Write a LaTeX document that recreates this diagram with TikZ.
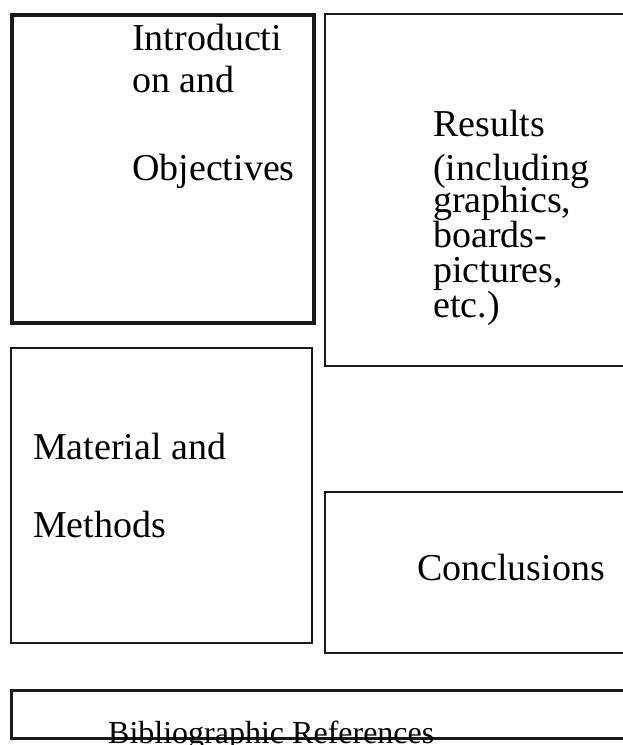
\documentclass[tikz,border=0pt]{standalone}
\usepackage{fontspec}
\setmainfont{Liberation Serif}
\usepackage{tikz}

\tikzset{
  panel/.style={draw=black!90,line width=2pt,anchor=north west,inner sep=0pt},
  word/.style={anchor=base west,inner sep=0pt,font=\fontsize{38}{42}\selectfont},
}

\begin{document}
\begin{tikzpicture}[x=1pt,y=-1pt]
\clip (0,0) rectangle (623,745);
\fill[white] (0,0) rectangle (623,745);
% boxes
\node[panel,line width=3.5pt,minimum width=302pt,minimum height=308pt] (intro) at (10,13) {};
\node[panel,minimum width=330pt,minimum height=352pt] (results) at (324,13) {};
\node[panel,minimum width=301pt,minimum height=295pt] (methods) at (10,347) {};
\node[panel,minimum width=330pt,minimum height=161pt] (concl) at (324,491) {};
\node[panel,line width=2.5pt,minimum width=650pt,minimum height=48pt] (biblio) at (10,689) {};
% texts
\node[word] (intro1) at (132,50) {Introducti};
\node[word] (intro2) at (132,92) {on and};
\node[word] (intro3) at (132,180) {Objectives};
\node[word] (res1) at (433,136) {Results};
\node[word] (res2) at (433,180) {(including};
\node[word] (res3) at (433,212) {graphics,};
\node[word] (res4) at (433,247) {boards-};
\node[word] (res5) at (433,282) {pictures,};
\node[word] (res6) at (433,317) {etc.)};
\node[word] (meth1) at (33,459) {Material and};
\node[word] (meth2) at (33,537) {Methods};
\node[word] (concl1) at (417,580) {Conclusions};
\node[word,font=\fontsize{32}{36}\selectfont] (bib1) at (108,743) {Bibliographic References};
\end{tikzpicture}
\end{document}
